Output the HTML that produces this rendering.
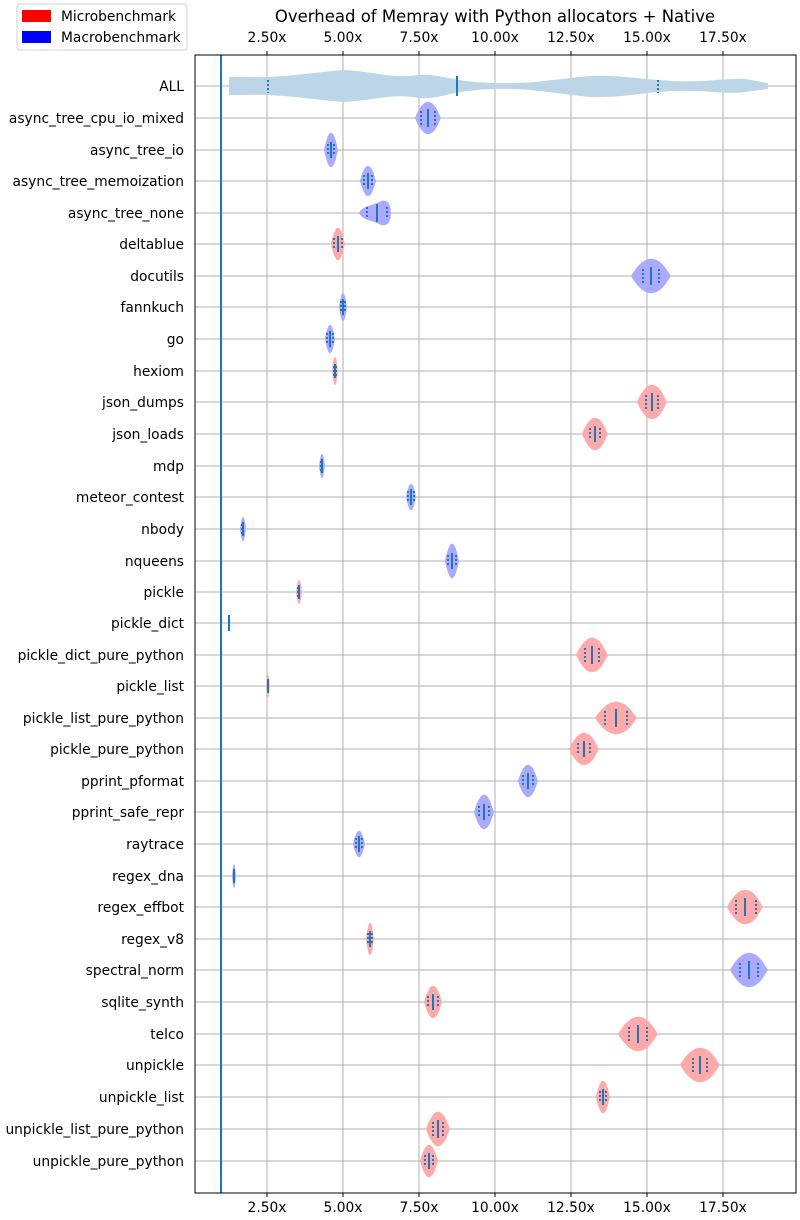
<!DOCTYPE html>
<html><head><meta charset="utf-8"><style>
body{margin:0;background:#fff}
svg{display:block;font-family:"DejaVu Sans","Liberation Sans",sans-serif}
.g{stroke:#b0b0b0;stroke-width:1}
.m{stroke:#1f77b4;stroke-width:2}
.q{stroke:#1f77b4;stroke-width:2;stroke-dasharray:2,2}
.r{fill:#ffaaaa}.b{fill:#aaaaff}
text{font-size:13.8px;fill:#000}
.l text{text-anchor:end}
</style></head><body>
<svg width="800" height="1220" viewBox="0 0 800 1220" xmlns="http://www.w3.org/2000/svg">
<defs><path id="v" d="M-1,0 C-0.7,-0.6 -0.3,-1.1 0.1,-1 C0.6,-0.9 0.8,-0.3 1,0 C0.8,0.3 0.6,0.9 0.1,1 C-0.3,1.1 -0.7,0.6 -1,0Z"/></defs>
<g class="g">
<line x1="267" y1="55" x2="267" y2="1193"/><line x1="343" y1="55" x2="343" y2="1193"/><line x1="419" y1="55" x2="419" y2="1193"/><line x1="495" y1="55" x2="495" y2="1193"/><line x1="571" y1="55" x2="571" y2="1193"/><line x1="647" y1="55" x2="647" y2="1193"/><line x1="723" y1="55" x2="723" y2="1193"/>
<line x1="195" y1="86" x2="796" y2="86"/><line x1="195" y1="118" x2="796" y2="118"/><line x1="195" y1="150" x2="796" y2="150"/><line x1="195" y1="181" x2="796" y2="181"/><line x1="195" y1="213" x2="796" y2="213"/><line x1="195" y1="244" x2="796" y2="244"/><line x1="195" y1="276" x2="796" y2="276"/><line x1="195" y1="307" x2="796" y2="307"/><line x1="195" y1="339" x2="796" y2="339"/><line x1="195" y1="371" x2="796" y2="371"/><line x1="195" y1="402" x2="796" y2="402"/><line x1="195" y1="434" x2="796" y2="434"/><line x1="195" y1="466" x2="796" y2="466"/><line x1="195" y1="497" x2="796" y2="497"/><line x1="195" y1="529" x2="796" y2="529"/><line x1="195" y1="561" x2="796" y2="561"/><line x1="195" y1="592" x2="796" y2="592"/><line x1="195" y1="623" x2="796" y2="623"/><line x1="195" y1="655" x2="796" y2="655"/><line x1="195" y1="686" x2="796" y2="686"/><line x1="195" y1="718" x2="796" y2="718"/><line x1="195" y1="749" x2="796" y2="749"/><line x1="195" y1="781" x2="796" y2="781"/><line x1="195" y1="812" x2="796" y2="812"/><line x1="195" y1="844" x2="796" y2="844"/><line x1="195" y1="876" x2="796" y2="876"/><line x1="195" y1="907" x2="796" y2="907"/><line x1="195" y1="939" x2="796" y2="939"/><line x1="195" y1="970" x2="796" y2="970"/><line x1="195" y1="1002" x2="796" y2="1002"/><line x1="195" y1="1034" x2="796" y2="1034"/><line x1="195" y1="1065" x2="796" y2="1065"/><line x1="195" y1="1097" x2="796" y2="1097"/><line x1="195" y1="1129" x2="796" y2="1129"/><line x1="195" y1="1161" x2="796" y2="1161"/>
</g>
<path fill="#bcd6e8" d="M229,77 L250,77 C280,78 300,74 343,70 C380,72 390,79 419,75 C440,73 450,82 495,83 C530,84 550,80 590,76 C620,75 640,79 660,80 C700,84 720,78 745,79 L768,83 L768,89 L745,92 C720,95 700,88 660,92 C640,93 620,98 590,97 C550,93 530,88 495,89 C450,90 440,100 419,98 C390,93 380,100 343,102 C300,98 280,94 250,95 L229,95Z"/>
<line class="m" x1="457" y1="76" x2="457" y2="96"/>
<line class="q" x1="268" y1="80" x2="268" y2="93"/>
<line class="q" x1="658" y1="80" x2="658" y2="93"/>
<line x1="221" y1="55" x2="221" y2="1193" stroke="#1f77b4" stroke-width="2"/>
<g transform="translate(428,118)"><use href="#v" class="b" transform="scale(13,16)"/><line class="m" y1="-9" y2="9"/><line class="q" x1="-7" x2="-7" y1="-7" y2="7"/><line class="q" x1="7" x2="7" y1="-7" y2="7"/></g>
<g transform="translate(331,150)"><use href="#v" class="b" transform="scale(7,17)"/><line class="m" y1="-8" y2="8"/><line class="q" x1="-3" x2="-3" y1="-6" y2="6"/><line class="q" x1="3" x2="3" y1="-6" y2="6"/></g>
<g transform="translate(368,181)"><use href="#v" class="b" transform="scale(8,15)"/><line class="m" y1="-8" y2="8"/><line class="q" x1="-4" x2="-4" y1="-6" y2="6"/><line class="q" x1="4" x2="4" y1="-6" y2="6"/></g>
<g transform="translate(377,213)"><path class="b" d="M-18,0 C-14,-8 -4,-7 4,-12 C12,-14 14,-6 14,0 C14,6 12,14 4,12 C-4,7 -14,8 -18,0Z"/><line class="m" y1="-9" y2="9"/><line class="q" x1="-10" x2="-10" y1="-6" y2="6"/><line class="q" x1="10" x2="10" y1="-6" y2="6"/></g>
<g transform="translate(338,244)"><use href="#v" class="r" transform="scale(7,16)"/><line class="m" y1="-8" y2="8"/><line class="q" x1="-4" x2="-4" y1="-6" y2="6"/><line class="q" x1="4" x2="4" y1="-6" y2="6"/></g>
<g transform="translate(651,276)"><use href="#v" class="b" transform="scale(20,17)"/><line class="m" y1="-9" y2="9"/><line class="q" x1="-8" x2="-8" y1="-7" y2="7"/><line class="q" x1="8" x2="8" y1="-7" y2="7"/></g>
<g transform="translate(343,307)"><use href="#v" class="b" transform="scale(4,14)"/><line class="m" y1="-8" y2="8"/><line class="q" x1="-2" x2="-2" y1="-6" y2="6"/><line class="q" x1="2" x2="2" y1="-6" y2="6"/></g>
<g transform="translate(330,339)"><use href="#v" class="b" transform="scale(5,14)"/><line class="m" y1="-8" y2="8"/><line class="q" x1="-3" x2="-3" y1="-6" y2="6"/><line class="q" x1="3" x2="3" y1="-6" y2="6"/></g>
<g transform="translate(335,371)"><use href="#v" class="r" transform="scale(3,14)"/><line class="m" y1="-7" y2="7"/><line class="q" x1="-1" x2="-1" y1="-5" y2="5"/><line class="q" x1="1" x2="1" y1="-5" y2="5"/></g>
<g transform="translate(652,402)"><use href="#v" class="r" transform="scale(15,17)"/><line class="m" y1="-9" y2="9"/><line class="q" x1="-6" x2="-6" y1="-7" y2="7"/><line class="q" x1="6" x2="6" y1="-7" y2="7"/></g>
<g transform="translate(595,434)"><use href="#v" class="r" transform="scale(13,16)"/><line class="m" y1="-8" y2="8"/><line class="q" x1="-5" x2="-5" y1="-6" y2="6"/><line class="q" x1="5" x2="5" y1="-6" y2="6"/></g>
<g transform="translate(322,466)"><use href="#v" class="b" transform="scale(3,12)"/><line class="m" y1="-7" y2="7"/><line class="q" x1="-1" x2="-1" y1="-5" y2="5"/></g>
<g transform="translate(411,497)"><use href="#v" class="b" transform="scale(5,13)"/><line class="m" y1="-8" y2="8"/><line class="q" x1="-3" x2="-3" y1="-6" y2="6"/><line class="q" x1="3" x2="3" y1="-6" y2="6"/></g>
<g transform="translate(243,529)"><use href="#v" class="b" transform="scale(3,12)"/><line class="m" y1="-7" y2="7"/><line class="q" x1="-1" x2="-1" y1="-5" y2="5"/></g>
<g transform="translate(452,561)"><use href="#v" class="b" transform="scale(7,17)"/><line class="m" y1="-8" y2="8"/><line class="q" x1="-4" x2="-4" y1="-6" y2="6"/><line class="q" x1="4" x2="4" y1="-6" y2="6"/></g>
<g transform="translate(299,592)"><use href="#v" class="r" transform="scale(3,12)"/><line class="m" y1="-7" y2="7"/><line class="q" x1="-1" x2="-1" y1="-5" y2="5"/></g>
<g transform="translate(229,623)"><line class="m" y1="-8" y2="8"/></g>
<g transform="translate(592,655)"><use href="#v" class="r" transform="scale(16,17)"/><line class="m" y1="-9" y2="9"/><line class="q" x1="-7" x2="-7" y1="-7" y2="7"/><line class="q" x1="7" x2="7" y1="-7" y2="7"/></g>
<g transform="translate(268,686)"><use href="#v" class="r" transform="scale(2,11)"/><line class="m" y1="-7" y2="7"/></g>
<g transform="translate(616,718)"><use href="#v" class="r" transform="scale(21,16)"/><line class="m" y1="-9" y2="9"/><line class="q" x1="-11" x2="-11" y1="-7" y2="7"/><line class="q" x1="11" x2="11" y1="-7" y2="7"/></g>
<g transform="translate(584,749)"><use href="#v" class="r" transform="scale(15,16)"/><line class="m" y1="-8" y2="8"/><line class="q" x1="-6" x2="-6" y1="-6" y2="6"/><line class="q" x1="6" x2="6" y1="-6" y2="6"/></g>
<g transform="translate(528,781)"><use href="#v" class="b" transform="scale(10,16)"/><line class="m" y1="-8" y2="8"/><line class="q" x1="-5" x2="-5" y1="-6" y2="6"/><line class="q" x1="5" x2="5" y1="-6" y2="6"/></g>
<g transform="translate(484,812)"><use href="#v" class="b" transform="scale(10,17)"/><line class="m" y1="-8" y2="8"/><line class="q" x1="-5" x2="-5" y1="-6" y2="6"/><line class="q" x1="5" x2="5" y1="-6" y2="6"/></g>
<g transform="translate(359,844)"><use href="#v" class="b" transform="scale(6,13)"/><line class="m" y1="-8" y2="8"/><line class="q" x1="-3" x2="-3" y1="-6" y2="6"/><line class="q" x1="3" x2="3" y1="-6" y2="6"/></g>
<g transform="translate(234,876)"><use href="#v" class="b" transform="scale(2,12)"/><line class="m" y1="-7" y2="7"/></g>
<g transform="translate(745,907)"><use href="#v" class="r" transform="scale(18,17)"/><line class="m" y1="-9" y2="9"/><line class="q" x1="-9" x2="-9" y1="-7" y2="7"/><line class="q" x1="11" x2="11" y1="-7" y2="7"/></g>
<g transform="translate(370,939)"><use href="#v" class="r" transform="scale(4,16)"/><line class="m" y1="-8" y2="8"/><line class="q" x1="-2" x2="-2" y1="-6" y2="6"/><line class="q" x1="2" x2="2" y1="-6" y2="6"/></g>
<g transform="translate(749,970)"><use href="#v" class="b" transform="scale(19,17)"/><line class="m" y1="-9" y2="9"/><line class="q" x1="-9" x2="-9" y1="-7" y2="7"/><line class="q" x1="9" x2="9" y1="-7" y2="7"/></g>
<g transform="translate(433,1002)"><use href="#v" class="r" transform="scale(9,16)"/><line class="m" y1="-8" y2="8"/><line class="q" x1="-5" x2="-5" y1="-6" y2="6"/><line class="q" x1="5" x2="5" y1="-6" y2="6"/></g>
<g transform="translate(638,1034)"><use href="#v" class="r" transform="scale(20,17)"/><line class="m" y1="-9" y2="9"/><line class="q" x1="-9" x2="-9" y1="-7" y2="7"/><line class="q" x1="9" x2="9" y1="-7" y2="7"/></g>
<g transform="translate(700,1065)"><use href="#v" class="r" transform="scale(20,17)"/><line class="m" y1="-9" y2="9"/><line class="q" x1="-7" x2="-7" y1="-7" y2="7"/><line class="q" x1="7" x2="7" y1="-7" y2="7"/></g>
<g transform="translate(603,1097)"><use href="#v" class="r" transform="scale(7,16)"/><line class="m" y1="-8" y2="8"/><line class="q" x1="-3" x2="-3" y1="-6" y2="6"/><line class="q" x1="3" x2="3" y1="-6" y2="6"/></g>
<g transform="translate(438,1129)"><use href="#v" class="r" transform="scale(12,17)"/><line class="m" y1="-9" y2="9"/><line class="q" x1="-5" x2="-5" y1="-7" y2="7"/><line class="q" x1="5" x2="5" y1="-7" y2="7"/></g>
<g transform="translate(429,1161)"><use href="#v" class="r" transform="scale(9,16)"/><line class="m" y1="-8" y2="8"/><line class="q" x1="-4" x2="-4" y1="-6" y2="6"/><line class="q" x1="4" x2="4" y1="-6" y2="6"/></g>
<rect x="195" y="55" width="601" height="1138" fill="none" stroke="#000" stroke-width="1"/>
<g stroke="#000"><line x1="267" y1="51" x2="267" y2="55"/><line x1="343" y1="51" x2="343" y2="55"/><line x1="419" y1="51" x2="419" y2="55"/><line x1="495" y1="51" x2="495" y2="55"/><line x1="571" y1="51" x2="571" y2="55"/><line x1="647" y1="51" x2="647" y2="55"/><line x1="723" y1="51" x2="723" y2="55"/></g>
<g stroke="#000"><line x1="267" y1="1193" x2="267" y2="1197"/><line x1="343" y1="1193" x2="343" y2="1197"/><line x1="419" y1="1193" x2="419" y2="1197"/><line x1="495" y1="1193" x2="495" y2="1197"/><line x1="571" y1="1193" x2="571" y2="1197"/><line x1="647" y1="1193" x2="647" y2="1197"/><line x1="723" y1="1193" x2="723" y2="1197"/></g>
<g text-anchor="middle"><text x="267" y="42">2.50x</text><text x="343" y="42">5.00x</text><text x="419" y="42">7.50x</text><text x="495" y="42">10.00x</text><text x="571" y="42">12.50x</text><text x="647" y="42">15.00x</text><text x="723" y="42">17.50x</text></g>
<g text-anchor="middle"><text x="267" y="1212">2.50x</text><text x="343" y="1212">5.00x</text><text x="419" y="1212">7.50x</text><text x="495" y="1212">10.00x</text><text x="571" y="1212">12.50x</text><text x="647" y="1212">15.00x</text><text x="723" y="1212">17.50x</text></g>
<text x="495" y="22" text-anchor="middle" style="font-size:16.5px">Overhead of Memray with Python allocators + Native</text>
<g class="l">
<text x="184" y="91">ALL</text><text x="184" y="123">async_tree_cpu_io_mixed</text><text x="184" y="155">async_tree_io</text><text x="184" y="186">async_tree_memoization</text><text x="184" y="218">async_tree_none</text><text x="184" y="249">deltablue</text><text x="184" y="281">docutils</text><text x="184" y="312">fannkuch</text><text x="184" y="344">go</text><text x="184" y="376">hexiom</text><text x="184" y="407">json_dumps</text><text x="184" y="439">json_loads</text><text x="184" y="471">mdp</text><text x="184" y="502">meteor_contest</text><text x="184" y="534">nbody</text><text x="184" y="566">nqueens</text><text x="184" y="597">pickle</text><text x="184" y="628">pickle_dict</text><text x="184" y="660">pickle_dict_pure_python</text><text x="184" y="691">pickle_list</text><text x="184" y="723">pickle_list_pure_python</text><text x="184" y="754">pickle_pure_python</text><text x="184" y="786">pprint_pformat</text><text x="184" y="817">pprint_safe_repr</text><text x="184" y="849">raytrace</text><text x="184" y="881">regex_dna</text><text x="184" y="912">regex_effbot</text><text x="184" y="944">regex_v8</text><text x="184" y="975">spectral_norm</text><text x="184" y="1007">sqlite_synth</text><text x="184" y="1039">telco</text><text x="184" y="1070">unpickle</text><text x="184" y="1102">unpickle_list</text><text x="184" y="1134">unpickle_list_pure_python</text><text x="184" y="1166">unpickle_pure_python</text>
</g>
<rect x="17" y="4" width="170" height="46" rx="3" fill="#fff" stroke="#d0d0d0"/>
<rect x="22" y="10" width="29" height="12" fill="#ff0000"/>
<rect x="22" y="31" width="29" height="12" fill="#0000ff"/>
<text x="61" y="21">Microbenchmark</text>
<text x="61" y="42">Macrobenchmark</text>
</svg>
</body></html>
